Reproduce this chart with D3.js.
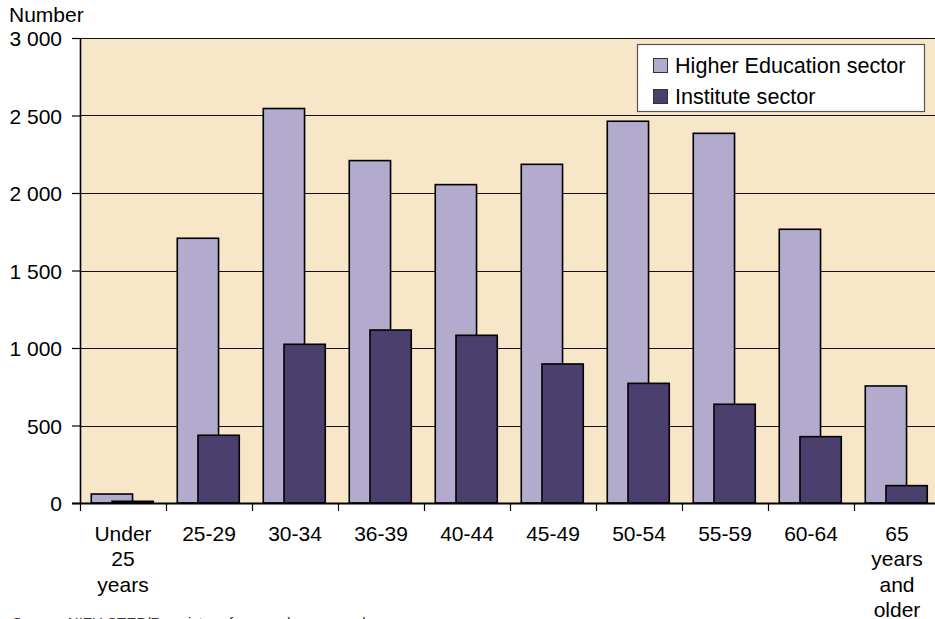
<!DOCTYPE html>
<html>
<head>
<meta charset="utf-8">
<script src="https://cdn.jsdelivr.net/npm/d3@7"></script>
<style>
  html, body { margin: 0; padding: 0; background: #ffffff; }
  svg { display: block; font-family: "Liberation Sans", Arial, sans-serif; }
</style>
</head>
<body>
<svg id="chart" width="935" height="619"></svg>
<script>
// Age groups (each label split into its drawn lines)
const categories = [
  ["Under", "25", "years"],
  ["25-29"], ["30-34"], ["36-39"], ["40-44"], ["45-49"],
  ["50-54"], ["55-59"], ["60-64"],
  ["65", "years", "and", "older"]
];
const seriesNames = ["Higher Education sector", "Institute sector"];
const higherEducation = [58, 1708, 2545, 2209, 2054, 2185, 2463, 2385, 1766, 755];
const instituteSector = [11, 437, 1024, 1116, 1082, 897, 772, 637, 428, 112];
const yTicks = [0, 500, 1000, 1500, 2000, 2500, 3000];
const yTickLabels = ["0", "500", "1 000", "1 500", "2 000", "2 500", "3 000"];
const yTitle = "Number";
const sourceNote = "Source: NIFU STEP/R-register of research personnel";

const colors = { he: "#b2abcd", inst: "#4b3f6e", bg: "#f7e6c8" };

const svg = d3.select("#chart");
const plotLeft = 80, plotRight = 940, plotTop = 38, plotBottom = 503;

const x = d3.scaleBand()
  .domain(d3.range(categories.length))
  .range([plotLeft, plotRight])
  .paddingInner(0).paddingOuter(0);
const y = d3.scaleLinear().domain([0, 3000]).range([plotBottom, plotTop]);

const bw = x.bandwidth();
const barW = bw * 0.48;
const heOff = bw * 0.131;
const instOff = bw * 0.372;

// Plot background
svg.append("rect")
  .attr("x", plotLeft).attr("y", plotTop)
  .attr("width", plotRight - plotLeft).attr("height", plotBottom - plotTop)
  .attr("fill", colors.bg);

// Horizontal gridlines
svg.append("g").selectAll("line")
  .data(yTicks.filter(d => d > 0))
  .join("line")
  .attr("x1", plotLeft).attr("x2", plotRight)
  .attr("y1", d => Math.round(y(d)) + 0.5).attr("y2", d => Math.round(y(d)) + 0.5)
  .attr("stroke", "#111").attr("stroke-width", 1.2);

// Bars: higher education behind, institute sector in front
const bars = svg.append("g").attr("stroke", "#000").attr("stroke-width", 1.6);
bars.selectAll("rect.he")
  .data(higherEducation)
  .join("rect").attr("class", "he")
  .attr("x", (d, i) => x(i) + heOff)
  .attr("y", d => y(d))
  .attr("width", barW)
  .attr("height", d => y(0) - y(d))
  .attr("fill", colors.he);
bars.selectAll("rect.inst")
  .data(instituteSector)
  .join("rect").attr("class", "inst")
  .attr("x", (d, i) => x(i) + instOff)
  .attr("y", d => y(d))
  .attr("width", barW)
  .attr("height", d => y(0) - y(d))
  .attr("fill", colors.inst);

// Y axis
const yAxis = d3.axisLeft(y)
  .tickValues(yTicks)
  .tickFormat((d, i) => yTickLabels[i])
  .tickSize(8)
  .tickPadding(10);
const gy = svg.append("g")
  .attr("transform", `translate(${plotLeft},0)`)
  .call(yAxis);
gy.select(".domain").remove();
gy.selectAll(".tick line").attr("stroke", "#000").attr("stroke-width", 1.2);
gy.selectAll(".tick text")
  .attr("fill", "#000")
  .style("font-size", "21px")
  .attr("dy", "0.36em");
svg.append("line")
  .attr("x1", plotLeft + 0.5).attr("x2", plotLeft + 0.5)
  .attr("y1", plotTop).attr("y2", plotBottom)
  .attr("stroke", "#000").attr("stroke-width", 1.6);

// X axis baseline and boundary ticks
svg.append("line")
  .attr("x1", plotLeft - 8).attr("x2", plotRight)
  .attr("y1", plotBottom + 0.5).attr("y2", plotBottom + 0.5)
  .attr("stroke", "#000").attr("stroke-width", 2);
svg.append("g").selectAll("line")
  .data(d3.range(categories.length))
  .join("line")
  .attr("x1", i => x(i) + 0.5).attr("x2", i => x(i) + 0.5)
  .attr("y1", plotBottom).attr("y2", plotBottom + 8)
  .attr("stroke", "#000").attr("stroke-width", 1.2);

// Top border of the plot area
svg.append("line")
  .attr("x1", plotLeft).attr("x2", plotRight)
  .attr("y1", plotTop + 0.5).attr("y2", plotTop + 0.5)
  .attr("stroke", "#111").attr("stroke-width", 1.2);

// Category labels
const xl = svg.append("g")
  .selectAll("text")
  .data(categories)
  .join("text")
  .attr("text-anchor", "middle")
  .attr("fill", "#000")
  .style("font-size", "21px")
  .attr("transform", (d, i) => `translate(${x(i) + bw / 2},541)`);
xl.selectAll("tspan")
  .data(d => d)
  .join("tspan")
  .attr("x", 0)
  .attr("y", (d, j) => j * 25.3)
  .text(d => d);

// Axis title
svg.append("text")
  .attr("x", 9).attr("y", 22)
  .attr("fill", "#000")
  .style("font-size", "21px")
  .text(yTitle);

// Legend
const legend = svg.append("g");
legend.append("rect")
  .attr("x", 637.5).attr("y", 44.5)
  .attr("width", 287).attr("height", 67)
  .attr("fill", "#fff").attr("stroke", "#555").attr("stroke-width", 1.2);
const legendColors = [colors.he, colors.inst];
const li = legend.selectAll("g.item")
  .data(seriesNames)
  .join("g").attr("class", "item")
  .attr("transform", (d, i) => `translate(653,${58 + i * 31})`);
li.append("rect")
  .attr("x", 0.5).attr("y", 0.5)
  .attr("width", 14).attr("height", 14)
  .attr("fill", (d, i) => legendColors[i])
  .attr("stroke", "#333").attr("stroke-width", 1);
li.append("text")
  .attr("x", 22).attr("y", 15)
  .attr("fill", "#000")
  .style("font-size", "21.6px")
  .text(d => d);

// Source note
svg.append("text")
  .attr("x", 12).attr("y", 628)
  .attr("fill", "#333")
  .style("font-size", "15px")
  .text(sourceNote);
</script>
</body>
</html>
